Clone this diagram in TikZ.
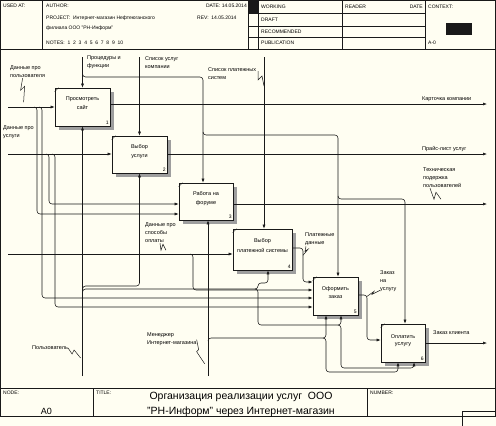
\documentclass[tikz,border=0pt]{standalone}
\usepackage{fontspec}
\setmainfont{Liberation Sans}
\usetikzlibrary{arrows.meta,shadows}
\definecolor{paper}{RGB}{255,254,242}
\definecolor{ink}{RGB}{25,25,25}
\newcommand{\fntext}[1]{\raisebox{-2.5pt}[0pt][0pt]{\shortstack{#1}}}
\tikzset{
  fn/.style={draw=ink,fill=paper,inner sep=0pt,line width=.6pt,
    drop shadow={shadow xshift=3.5pt,shadow yshift=-3.5pt,fill=black!38,opacity=1}},
  link/.style={draw=ink,line width=.55pt,rounded corners=3pt,-{Latex[length=4pt,width=3pt]}},
  lbl/.style={inner sep=0pt,align=left,font=\fontsize{5.5}{8}\selectfont},
  hdr/.style={inner sep=0pt,anchor=west,font=\fontsize{5}{6}\selectfont},
  num/.style={inner sep=1.5pt,anchor=south east,font=\fontsize{5}{6}\selectfont},
  sq/.style={draw=ink,line width=.5pt}
}
\begin{document}
\begin{tikzpicture}[x=1pt,y=-1pt,font=\fontsize{5.5}{6.5}\selectfont]
\fill[paper] (0,0) rectangle (496,426);
\useasboundingbox (0,0) rectangle (496,426);

% frame, header and footer
\draw[ink,line width=.7pt] (0.5,0.5) rectangle (495.5,416);
\draw[ink,line width=.6pt] (0,49) -- (496,49) (42,0) -- (42,49) (248,0) -- (248,49)
  (258,0) -- (258,49) (342,0) -- (342,49) (425,0) -- (425,49)
  (248,13) -- (425,13) (248,26) -- (425,26) (248,37) -- (425,37);
\fill[ink] (248,0) rectangle (258,13);
\fill[ink] (446,23) rectangle (472,35);
\draw[ink,line width=.6pt] (0,388) -- (496,388) (93,388) -- (93,416) (367,388) -- (367,416)
  (462,426) -- (462,411) -- (496,411);

\node[hdr] (usedat) at (3,6) {USED AT:};
\node[hdr] (author) at (46,6) {AUTHOR:};
\node[hdr,anchor=east] (date) at (247,6) {DATE:\ 14.05.2014};
\node[hdr] (project) at (46,18) {PROJECT:\ \ Интернет-магазин Нефтеюганского};
\node[hdr] (project2) at (46,28) {филиала ООО "РН-Информ"};
\node[hdr] (rev) at (197,18) {REV:\ \ 14.05.2014};
\node[hdr] (notes) at (46,43) {NOTES:\ \ 1\ \ 2\ \ 3\ \ 4\ \ 5\ \ 6\ \ 7\ \ 8\ \ 9\ \ 10};
\node[hdr] (working) at (261,6.5) {WORKING};
\node[hdr] (draft) at (261,19.5) {DRAFT};
\node[hdr] (recommended) at (261,31.5) {RECOMMENDED};
\node[hdr] (publication) at (261,43) {PUBLICATION};
\node[hdr] (reader) at (345,6.5) {READER};
\node[hdr,anchor=east] (rdate) at (423,6.5) {DATE};
\node[hdr] (context) at (428,6.5) {CONTEXT:};
\node[hdr] (ctxnum) at (428,43) {A-0};
\node[hdr] (nodelbl) at (3,393) {NODE:};
\node[font=\fontsize{9}{10}\selectfont] (nodenum) at (46.5,411) {A0};
\node[hdr] (titlelbl) at (96,393) {TITLE:};
\node[align=center,font=\fontsize{10.5}{15}\selectfont] (title) at (241,404.5)
  {Организация реализации услуг\ \ ООО\\"РН-Информ" через Интернет-магазин};
\node[hdr] (numberlbl) at (370,393) {NUMBER:};

% activity boxes
\node[fn,minimum width=55pt,minimum height=38pt] (b1) at (82.5,107) {\fntext{Просмотреть\\[1pt]сайт}};
\node[fn,minimum width=55pt,minimum height=37pt] (b2) at (139.5,154.5) {\fntext{Выбор\\[1pt]услуги}};
\node[fn,minimum width=54pt,minimum height=37pt] (b3) at (206,201.5) {\fntext{Работа на\\[1pt]форуме}};
\node[fn,minimum width=59pt,minimum height=41pt] (b4) at (262.5,249.5) {\fntext{Выбор\\[1pt]платежной системы}};
\node[fn,minimum width=45pt,minimum height=38pt] (b5) at (335.5,296) {\fntext{Оформить\\[1pt]заказ}};
\node[fn,minimum width=44pt,minimum height=38pt] (b6) at (403,343) {\fntext{Оплатить\\[1pt]услугу}};
\foreach \b/\n in {b1/1,b2/2,b3/3,b4/4,b5/5,b6/6}{
  \node[num] (\b n) at (\b.south east) {\n};
  \draw[ink,line width=.4pt] ([yshift=-4pt]\b.north west) -- ([xshift=4pt]\b.north west);
}

% free ends
\coordinate (uIn) at (8,107);
\coordinate (sIn) at (8,154);
\coordinate (pIn) at (8,254);
\coordinate (cProc) at (82.5,57);
\coordinate (cList) at (139.5,57);
\coordinate (cPay) at (264,57);
\coordinate (mUser) at (82.5,376);
\coordinate (mMan) at (208,376);
\coordinate (o1) at (487,104);
\coordinate (o2) at (487,154);
\coordinate (o3) at (487,204);
\coordinate (o6) at (487,343);

% ports
\coordinate (b3i1) at ([yshift=-2.5pt]b3.west);
\coordinate (b3i2) at ([yshift=-12.5pt]b3.west);
\coordinate (b3c) at ([xshift=-3pt]b3.north);
\coordinate (b4o) at ([yshift=1.5pt]b4.east);
\coordinate (b4m) at ([xshift=5.5pt]b4.south);
\coordinate (b5i1) at ([yshift=14pt]b5.west);
\coordinate (b5i2) at ([yshift=6pt]b5.west);
\coordinate (b5i3) at ([yshift=-2pt]b5.west);
\coordinate (b5i4) at ([yshift=-11pt]b5.west);
\coordinate (b5o) at ([yshift=1pt]b5.east);
\coordinate (b5c) at ([xshift=2.5pt]b5.north);
\coordinate (b5m1) at ([xshift=-9.5pt]b5.south);
\coordinate (b5m2) at ([xshift=5.5pt]b5.south);
\coordinate (b6i) at ([yshift=3pt]b6.west);
\coordinate (b6c) at ([xshift=2pt]b6.north);
\coordinate (b6m1) at ([xshift=-5pt]b6.south);
\coordinate (b6m2) at ([xshift=11pt]b6.south);

% branch points and bends
\coordinate (ju1) at (37,107);
\coordinate (ju2) at (42,107);
\coordinate (js1) at (49,154);
\coordinate (js2) at (55,154);
\coordinate (jpay) at (193,254);
\coordinate (jp1) at (82.5,77);
\coordinate (jp2) at (203,135);
\coordinate (jp3) at (338,199);
\coordinate (jm1) at (82.5,286);
\coordinate (jm2) at (82.5,289);
\coordinate (jb) at (258,289);
\coordinate (kb4) at (268,283);
\coordinate (jb2) at (341,325);
\coordinate (kb6) at (414,368);
\coordinate (jmm) at (208,338);
\coordinate (jmm2) at (326,338);
\coordinate (kb6b) at (398,372);
\coordinate (kpd) at (303,248);
\coordinate (kzu) at (367,295);

% inputs
\draw[link] (uIn) -- (uIn -| b1.west);
\draw[link] ([xshift=-3pt]ju1) -- (ju1) |- (b3i2);
\draw[link] ([xshift=-3pt]ju2) -- (ju2) |- (b5i3);
\draw[link] (sIn) -- (sIn -| b2.west);
\draw[link] ([xshift=-3pt]js1) -- (js1) |- (b3i1);
\draw[link] ([xshift=-3pt]js2) -- (js2) |- (b5i4);
\draw[link] (pIn) -- (pIn -| b4.west);
\draw[link] ([xshift=-3pt]jpay) -- (jpay) |- (b5i2);

% controls
\draw[link] (cProc) -- (b1.north);
\draw[link] ([yshift=3pt]jp1) -- (jp1) -| (b3c);
\draw[link] ([yshift=3pt]jp2) -- (jp2) -| (b5c);
\draw[link] ([yshift=3pt]jp3) -- (jp3) -| (b6c);
\draw[link] (cList) -- (b2.north);
\draw[link] (cPay) -- (cPay |- b4.north);

% outputs
\draw[link] (o1 -| b1.east) -- (o1);
\draw[link] (o2 -| b2.east) -- (o2);
\draw[link] (o3 -| b3.east) -- (o3);
\draw[link] (b4o) -- (kpd) |- (b5i1);
\draw[link] (b5o) -- (kzu) |- (b6i);
\draw[link] (o6 -| b6.east) -- (o6);

% mechanisms
\draw[link] (mUser) -- (b1.south);
\draw[link] ([yshift=-3pt]jm1) -- (jm1) -| (b2.south);
\draw[link] ([yshift=-3pt]jm2) -- (jm2) -- (jb) |- (kb4) -- (b4m);
\draw[link] ([xshift=-3pt]jb) -- (jb) |- (jb2) -- (b5m2);
\draw[link] ([xshift=-3pt]jb2) -- (jb2) |- (kb6) -- (b6m2);
\draw[link] (mMan) -- (mMan |- b3.south);
\draw[link] ([yshift=-3pt]jmm) -- (jmm) -| (b5m1);
\draw[link] ([xshift=-3pt]jmm2) -- (jmm2) |- (kb6b) -- (b6m1);

% arrow labels
\node[lbl,anchor=north west] (tUser) at (10,66) {Данные про\\пользователя};
\node[lbl,anchor=north west] (tServ) at (3,126) {Данные про\\услуги};
\node[lbl,anchor=north west] (tPayIn) at (145,223) {Данные про\\способы\\оплаты};
\node[lbl,anchor=north west] (tProc) at (87,56) {Процедуры и\\функции};
\node[lbl,anchor=north west] (tList) at (145,56) {Список услуг\\компании};
\node[lbl,anchor=north west] (tPaySys) at (208,67) {Список платежных\\систем};
\node[lbl,anchor=west] (tCard) at (422,99) {Карточка компании};
\node[lbl,anchor=west] (tPrice) at (422,149) {Прайс-лист услуг};
\node[lbl,anchor=north west] (tSupp) at (423,168) {Техническая\\подержка\\пользователей};
\node[lbl,anchor=north west] (tPayData) at (305,233) {Платежные\\данные};
\node[lbl,anchor=north west] (tOrder) at (380,270) {Заказ\\на\\услугу};
\node[lbl,anchor=west] (tClient) at (433,333) {Заказ клиента};
\node[lbl,anchor=west] (tUsr) at (32,348) {Пользователь};
\node[lbl,anchor=north west] (tMan) at (147,333) {Менеджер\\Интернет-магазина};

% squiggles
\draw[sq] ([xshift=-5pt]tUser.south) -- ++(-2,12) -- ++(4,-4) -- ++(-1,16);
\draw[sq] (258,71) -- ++(0,9) -- ++(4,-4) -- ++(2,10);
\draw[sq] ([xshift=15pt]tPayIn.south west) -- ++(1,7) -- ++(2,-6) -- ++(3,6);
\draw[sq] ([xshift=7pt]tSupp.south west) -- ++(4,11) -- ++(2,-7) -- ++(5,7);
\draw[sq] ([xshift=1pt]tPayData.south west) -- ++(-1,5) -- ++(3,-2) -- ++(-5,6);
\draw[sq] ([yshift=1pt]tOrder.south west) -- ++(-8,4) -- ++(2,-3) -- ++(-7,5);
\draw[sq] (tUsr.east) -- ++(4,6) -- ++(2,-4) -- ++(6.5,8);
\draw[sq] (tMan.east) -- ++(2,10) -- ++(-2,2) -- ++(8,12);
\end{tikzpicture}
\end{document}
